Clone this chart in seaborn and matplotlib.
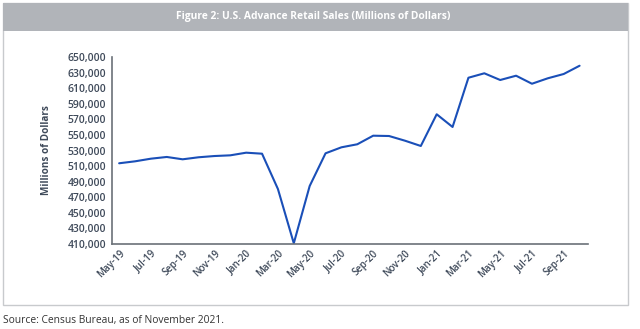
import matplotlib
matplotlib.use("Agg")
import matplotlib.pyplot as plt
import seaborn as sns
import pandas as pd
from matplotlib.patches import Rectangle
from matplotlib.ticker import FuncFormatter

months = ["May-19", "Jun-19", "Jul-19", "Aug-19", "Sep-19", "Oct-19", "Nov-19", "Dec-19",
          "Jan-20", "Feb-20", "Mar-20", "Apr-20", "May-20", "Jun-20", "Jul-20", "Aug-20",
          "Sep-20", "Oct-20", "Nov-20", "Dec-20", "Jan-21", "Feb-21", "Mar-21", "Apr-21",
          "May-21", "Jun-21", "Jul-21", "Aug-21", "Sep-21", "Oct-21"]
sales = [513600, 516100, 519500, 521700, 518700, 521300, 522900, 523800,
         527200, 525900, 480600, 410900, 484400, 526400, 534100, 538000,
         549000, 548600, 542600, 535800, 576500, 560200, 623400, 629100,
         620500, 626000, 615700, 622700, 628200, 638800]
y_ticks = list(range(410000, 650001, 20000))

title = "Figure 2: U.S. Advance Retail Sales (Millions of Dollars)"
ylabel = "Millions of Dollars"
source = "Source: Census Bureau, as of November 2021."

sns.set_theme(style="white")
plt.rcParams["font.family"] = ["Open Sans", "DejaVu Sans"]

df = pd.DataFrame({"pos": range(len(months)), "month": months, "sales": sales})

fig = plt.figure(figsize=(6.4, 3.29), dpi=100)
ax = fig.add_axes([0.175, 0.2584, 0.743, 0.5683])

sns.lineplot(data=df, x="pos", y="sales", ax=ax, color="#1a4fb8", linewidth=1.5)

ax.set_xlim(-0.45, len(months) - 0.5)
ax.set_ylim(410000, 650000)
ax.set_yticks(y_ticks)
ax.yaxis.set_major_formatter(FuncFormatter(lambda v, p: f"{int(v):,}"))
ax.set_xticks(df["pos"][::2])
ax.set_xticklabels(df["month"][::2], rotation=45, ha="right", rotation_mode="anchor")
txtc = "#3f4a5a"
ax.tick_params(axis="y", length=0, colors=txtc, labelsize=7.5, pad=4)
ax.tick_params(axis="x", length=0, colors=txtc, labelsize=7, pad=3)
for lab in ax.get_xticklabels() + ax.get_yticklabels():
    lab.set_fontweight("semibold")
ax.set_xlabel("")
ax.set_ylabel(ylabel, fontsize=7.2, fontweight="bold", color=txtc, labelpad=11)
for s in ["top", "right"]:
    ax.spines[s].set_visible(False)
for s in ["left", "bottom"]:
    ax.spines[s].set_color("#6b7178")
    ax.spines[s].set_linewidth(1.2)
ax.grid(False)

# panel frame and title band
fig.patches.append(Rectangle((3/640, 1 - 305/329), 625/640, 302/329, transform=fig.transFigure,
                             facecolor="none", edgecolor="#c8cacd", linewidth=1.0))
fig.patches.append(Rectangle((3/640, 1 - 31/329), 625/640, 28/329, transform=fig.transFigure,
                             facecolor="#b1b4b9", edgecolor="none"))
fig.text(313/640, 1 - 17/329, title, ha="center", va="center", color="white",
         fontsize=7.4, fontweight="bold")
fig.text(3/640, 1 - 321/329, source, ha="left", va="center", color="#333333", fontsize=7.4)

fig.savefig("out.png", dpi=100)
